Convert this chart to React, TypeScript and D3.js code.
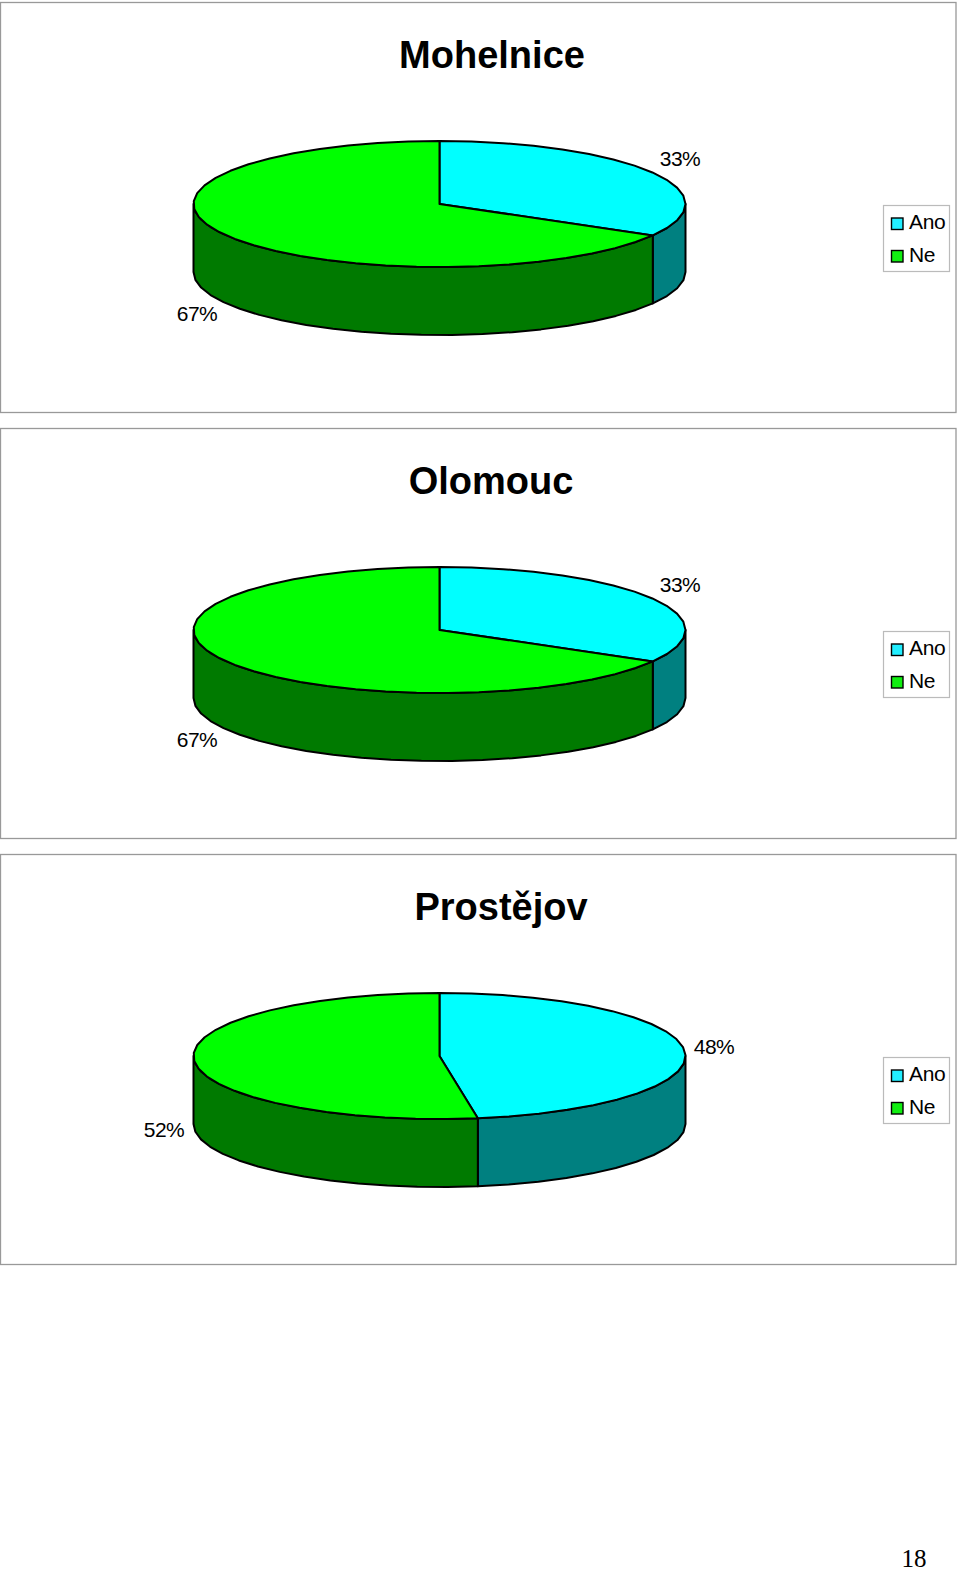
import { useEffect, useRef } from 'react';
import * as d3 from 'd3';

// chart data
const cities = ['Mohelnice', 'Olomouc', 'Prostějov'];
const categories = ['Ano', 'Ne'];
const mohelniceValues = [33.3, 66.7];
const olomoucValues = [33.3, 66.7];
const prostejovValues = [47.51, 52.49];
const pageNumber = '18';

const seriesByCity = [mohelniceValues, olomoucValues, prostejovValues];

const topColors = ['#00ffff', '#00ff00'];
const sideColors = ['#008080', '#007a00'];

const FONT = '"Liberation Sans", Arial, sans-serif';
const PANEL_STEP = 426;
const PANEL_H = 410;
const TAU = Math.PI * 2;

// label placement relative to each panel's top, hand tuned per city
const titleX = [492, 491, 501];
const labelAnchors = [
  [[680, 166], [197, 321]],
  [[680, 166], [197, 321]],
  [[714, 202], [164, 285]],
];

export default function App() {
  const svgRef = useRef<SVGSVGElement>(null);

  useEffect(() => {
    if (!svgRef.current) return;
    const svg = d3.select(svgRef.current);
    svg.selectAll('*').remove();

    const x = d3.scaleLinear().domain([-1, 1]).range([193.5, 685.5]);
    const y = d3.scaleLinear().domain([-1, 1]).range([141, 267]);
    const depth = 68;

    const pie = d3.pie<number>().sort(null).startAngle(0).endAngle(TAU);
    const line = d3.line<[number, number]>();

    // angle is clockwise from twelve o'clock, as in d3.pie
    const rim = (a: number, dy = 0): [number, number] => [
      x(Math.sin(a)),
      y(-Math.cos(a)) + dy,
    ];
    const arcPoints = (a0: number, a1: number, dy = 0) => {
      const n = Math.max(2, Math.ceil((a1 - a0) / (TAU / 48)));
      return d3.range(n + 1).map(i => rim(a0 + ((a1 - a0) * i) / n, dy));
    };

    cities.forEach((city, c) => {
      const g = svg.append('g').attr('transform', `translate(0,${c * PANEL_STEP})`);

      g.append('rect')
        .attr('x', 0.5)
        .attr('y', 2.5)
        .attr('width', 955.5)
        .attr('height', PANEL_H)
        .attr('fill', '#fff')
        .attr('stroke', '#999')
        .attr('stroke-width', 1.3);

      g.append('text')
        .attr('x', titleX[c])
        .attr('y', 68)
        .attr('text-anchor', 'middle')
        .style('font-family', FONT)
        .style('font-weight', 700)
        .style('font-size', '38px')
        .text(city);

      const slices = pie(seriesByCity[c]);

      // walls: only the front half of the rim is visible
      slices.forEach((s, i) => {
        const a0 = Math.max(s.startAngle, Math.PI / 2);
        const a1 = Math.min(s.endAngle, (Math.PI * 3) / 2);
        if (a1 <= a0) return;
        const top = arcPoints(a0, a1);
        const bottom = arcPoints(a0, a1, depth).reverse();
        g.append('path')
          .attr('d', line([...top, ...bottom])! + 'Z')
          .attr('fill', sideColors[i])
          .attr('stroke', '#000')
          .attr('stroke-width', 2)
          .attr('stroke-linejoin', 'round');
      });

      // top faces
      slices.forEach((s, i) => {
        const centre: [number, number] = [x(0), y(0)];
        g.append('path')
          .attr('d', line([centre, ...arcPoints(s.startAngle, s.endAngle)])! + 'Z')
          .attr('fill', topColors[i])
          .attr('stroke', '#000')
          .attr('stroke-width', 2)
          .attr('stroke-linejoin', 'round');

        g.append('text')
          .attr('x', labelAnchors[c][i][0])
          .attr('y', labelAnchors[c][i][1])
          .attr('text-anchor', 'middle')
          .style('font-family', FONT)
          .style('font-size', '21px')
          .style('letter-spacing', '-0.5px')
          .text(`${d3.format('.0f')(s.data)}%`);
      });

      // legend
      const legend = g.append('g').attr('transform', 'translate(883,205)');
      legend
        .append('rect')
        .attr('x', 0.5)
        .attr('y', 0.5)
        .attr('width', 66)
        .attr('height', 66)
        .attr('fill', '#fff')
        .attr('stroke', '#bbb')
        .attr('stroke-width', 1.2);
      categories.forEach((name, i) => {
        legend
          .append('rect')
          .attr('x', 8.5)
          .attr('y', 13 + i * 32.5)
          .attr('width', 11.5)
          .attr('height', 11.5)
          .attr('fill', i === 0 ? '#22eeff' : '#11ee11')
          .attr('stroke', '#000')
          .attr('stroke-width', 1.4);
        legend
          .append('text')
          .attr('x', 26)
          .attr('y', 24 + i * 33)
          .style('font-family', FONT)
          .style('font-size', '21px')
          .style('letter-spacing', '-0.3px')
          .text(name);
      });
    });

    svg
      .append('text')
      .attr('x', 914)
      .attr('y', 1567)
      .attr('text-anchor', 'middle')
      .style('font-family', '"Liberation Serif", serif')
      .style('font-size', '25px')
      .text(pageNumber);
  }, []);

  return (
    <svg
      ref={svgRef}
      width={960}
      height={1570}
      style={{ position: 'absolute', left: 0, top: 0, background: '#fff' }}
    />
  );
}
